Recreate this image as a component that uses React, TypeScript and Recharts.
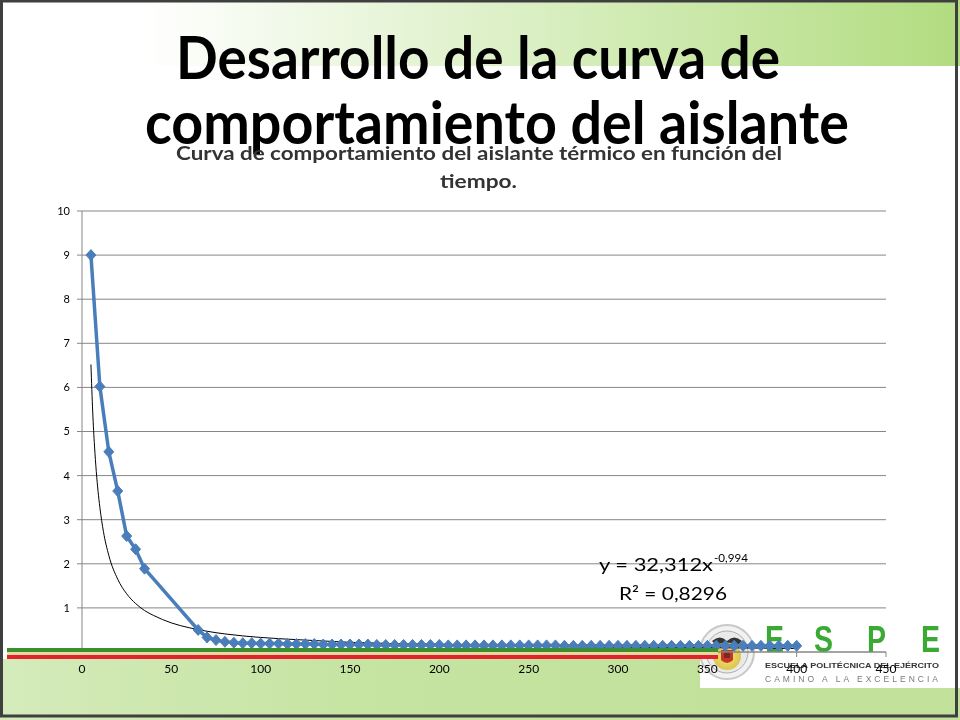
import React from "react";
import { LineChart, Line, XAxis, YAxis, CartesianGrid } from "recharts";

// ---- Data ----
const timeValues = [
  5, 10, 15, 20, 25, 30, 35,
  65, 70, 75, 80, 85, 90, 95, 100, 105, 110, 115, 120, 125, 130, 135, 140, 145, 150,
  155, 160, 165, 170, 175, 180, 185, 190, 195, 200, 205, 210, 215, 220, 225, 230, 235,
  240, 245, 250, 255, 260, 265, 270, 275, 280, 285, 290, 295, 300, 305, 310, 315, 320,
  325, 330, 335, 340, 345, 350, 355, 360, 365, 370, 375, 380, 385, 390, 395, 400,
];
const measuredValues = [
  9.0, 6.02, 4.54, 3.65, 2.63, 2.33, 1.89,
  0.5, 0.33, 0.27, 0.23, 0.21, 0.2, 0.2, 0.19, 0.19, 0.19, 0.18, 0.18, 0.18, 0.18, 0.17, 0.17, 0.17, 0.17,
  0.17, 0.17, 0.16, 0.16, 0.16, 0.16, 0.16, 0.16, 0.16, 0.16, 0.15, 0.15, 0.15, 0.15, 0.15, 0.15, 0.15,
  0.15, 0.15, 0.15, 0.15, 0.15, 0.15, 0.14, 0.14, 0.14, 0.14, 0.14, 0.14, 0.14, 0.14, 0.14, 0.14, 0.14,
  0.14, 0.14, 0.14, 0.14, 0.14, 0.14, 0.14, 0.14, 0.14, 0.14, 0.14, 0.14, 0.14, 0.14, 0.14, 0.14,
];
// Power trendline (y = 32,312x^-0,994) values read at sample times
const trendTimes = [5, 6, 7, 8, 9, 10, 12, 15, 20, 25, 30, 35, 40, 50, 60, 70, 80, 100, 125, 150, 200, 250, 300, 350, 400];
const trendValues = [6.52, 5.44, 4.67, 4.09, 3.64, 3.28, 2.73, 2.19, 1.65, 1.32, 1.1, 0.94, 0.83, 0.66, 0.55, 0.47, 0.41, 0.33, 0.27, 0.22, 0.17, 0.13, 0.11, 0.1, 0.08];

const xTicks = [0, 50, 100, 150, 200, 250, 300, 350, 400, 450];
const yTicks = [0, 1, 2, 3, 4, 5, 6, 7, 8, 9, 10];

const slideTitle = ["Desarrollo de la curva de", "comportamiento del aislante"];
const chartTitle = ["Curva de comportamiento del aislante térmico en función del", "tiempo."];
const equationMain = "y = 32,312x";
const equationExp = "-0,994";
const rSquared = "R² = 0,8296";

const measured = timeValues.map((x, i) => ({ x, y: measuredValues[i] }));
const trend = trendTimes.map((x, i) => ({ x, y: trendValues[i] }));

const BLUE = "#4a7ebb";
const GRID = "#868686";
const FONT = "Lato, 'Open Sans', sans-serif";

const Diamond = (props: any) => {
  const { cx, cy, index } = props;
  if (cx == null || cy == null) return <g key={`n-${index}`} />;
  return (
    <path
      key={`d-${index}`}
      d={`M${cx},${cy - 5.5}L${cx + 5},${cy}L${cx},${cy + 5.5}L${cx - 5},${cy}Z`}
      fill={BLUE}
      stroke={BLUE}
      strokeWidth={1}
    />
  );
};

export default function App() {
  return (
    <div
      style={{
        position: "absolute",
        left: 0,
        top: 0,
        width: 960,
        height: 720,
        background: "#ffffff",
        overflow: "hidden",
        fontFamily: FONT,
      }}
    >
      {/* Background layer */}
      <svg width={960} height={720} style={{ position: "absolute", left: 0, top: 0 }}>
        <defs>
          <linearGradient id="topBand" x1="0" y1="0" x2="1" y2="0">
            <stop offset="0" stopColor="#ffffff" />
            <stop offset="0.15" stopColor="#ffffff" />
            <stop offset="0.6" stopColor="#d6edbc" />
            <stop offset="1" stopColor="#b2dc80" />
          </linearGradient>
          <radialGradient id="emblem" cx="0.5" cy="0.5" r="0.5">
            <stop offset="0" stopColor="#f4e27a" />
            <stop offset="0.6" stopColor="#e8d25a" />
            <stop offset="1" stopColor="#d8c550" />
          </radialGradient>
        </defs>
        <rect x={0} y={0} width={960} height={66} fill="url(#topBand)" />
        {/* Emblem */}
        <circle cx={727} cy={652} r={27} fill="#f2f2f2" stroke="#c8c8c8" strokeWidth={2} />
        <circle cx={727} cy={652} r={21} fill="#e9e9e9" stroke="#b0b0b0" strokeWidth={1} />
        <circle cx={727} cy={656} r={14} fill="url(#emblem)" />
        <path d="M712,641 Q720,634 727,641 Q734,634 742,641 L738,645 Q727,640 716,645 Z" fill="#333" />
        <path d="M721,650 L733,650 L733,660 Q727,666 721,660 Z" fill="#c8342a" />
        <path d="M724,652 L730,652 L730,658 L724,658 Z" fill="#7a2a1a" />
        {/* ESPE */}
        {["E", "S", "P", "E"].map((ch, i) => (
          <text
            key={`espe-${i}`}
            x={[765, 814, 867, 921][i]}
            y={652}
            fontFamily="'Liberation Sans', Arial, sans-serif"
            fontWeight="bold"
            fontSize={36}
            fill="#3aaa35"
            textLength={19}
            lengthAdjust="spacingAndGlyphs"
          >
            {ch}
          </text>
        ))}
        <text
          x={765}
          y={668}
          fontFamily="'Liberation Sans', Arial, sans-serif"
          fontWeight="bold"
          fontSize={8}
          fill="#333"
          textLength={174}
          lengthAdjust="spacingAndGlyphs"
        >
          ESCUELA POLITÉCNICA DEL EJÉRCITO
        </text>
        <text
          x={765}
          y={682}
          fontFamily="'Liberation Sans', Arial, sans-serif"
          fontSize={8.5}
          fill="#7a7a7a"
          textLength={173}
          lengthAdjust="spacing"
        >
          CAMINO A LA EXCELENCIA
        </text>
      </svg>

      {/* Chart layer */}
      <div style={{ position: "absolute", left: 0, top: 0, width: 960, height: 720 }}>
        <LineChart width={960} height={720} margin={{ top: 211, right: 74, bottom: 38, left: 52 }}>
          <CartesianGrid vertical={false} stroke={GRID} strokeWidth={1} />
          <XAxis
            type="number"
            dataKey="x"
            domain={[0, 450]}
            ticks={xTicks}
            allowDataOverflow
            height={30}
            stroke={GRID}
            tickSize={5}
            tickMargin={7}
            tick={{ fill: "#000", fontSize: 12, fontFamily: FONT }}
          />
          <YAxis
            type="number"
            domain={[0, 10]}
            ticks={yTicks}
            width={30}
            stroke={GRID}
            tickSize={5}
            tickMargin={7}
            tick={{ fill: "#000", fontSize: 11, fontFamily: FONT }}
          />
          <Line
            data={measured}
            dataKey="y"
            type="linear"
            stroke={BLUE}
            strokeWidth={3.5}
            dot={Diamond}
            activeDot={false}
            isAnimationActive={false}
          />
          <Line
            data={trend}
            dataKey="y"
            type="monotone"
            stroke="#000"
            strokeWidth={1}
            dot={false}
            activeDot={false}
            isAnimationActive={false}
          />
        </LineChart>
      </div>

      {/* Bottom background band, multiplied over the chart so axis labels stay visible */}
      <svg
        width={960}
        height={720}
        style={{ position: "absolute", left: 0, top: 0, mixBlendMode: "multiply", pointerEvents: "none" }}
      >
        <defs>
          <linearGradient id="bottomBand" x1="0" y1="0" x2="1" y2="0">
            <stop offset="0" stopColor="#d4ebbb" />
            <stop offset="0.5" stopColor="#c6e4a2" />
            <stop offset="1" stopColor="#c2e29c" />
          </linearGradient>
        </defs>
        <rect x={0} y={659} width={700} height={61} fill="url(#bottomBand)" />
        <rect x={700} y={688} width={260} height={32} fill="#c2e29c" />
      </svg>

      {/* Overlay layer */}
      <svg width={960} height={720} style={{ position: "absolute", left: 0, top: 0, pointerEvents: "none" }}>
        {/* decorative bands */}
        <rect x={7} y={648} width={711} height={4} fill="#3d8f2e" />
        <rect x={7} y={652} width={711} height={3} fill="#ead7a3" />
        <rect x={7} y={655} width={711} height={4} fill="#e2232c" />
        {/* slide frame */}
        <rect x={1.5} y={1} width={955} height={715} fill="none" stroke="#3f3f3f" strokeWidth={3} />
        {/* slide title */}
        <text x={176} y={79} fontFamily={FONT} fontWeight="bold" fontSize={60} fill="#000" textLength={604} lengthAdjust="spacingAndGlyphs">
          {slideTitle[0]}
        </text>
        <text x={145} y={144} fontFamily={FONT} fontWeight="bold" fontSize={60} fill="#000" textLength={704} lengthAdjust="spacingAndGlyphs">
          {slideTitle[1]}
        </text>
        {/* chart title */}
        <text x={176} y={160} fontFamily={FONT} fontWeight="bold" fontSize={19} fill="#333" textLength={606} lengthAdjust="spacingAndGlyphs">
          {chartTitle[0]}
        </text>
        <text x={440} y={188} fontFamily={FONT} fontWeight="bold" fontSize={19} fill="#333" textLength={77} lengthAdjust="spacingAndGlyphs">
          {chartTitle[1]}
        </text>
        {/* trendline label */}
        <text x={599} y={571} fontFamily={FONT} fontSize={18} fill="#000" textLength={114} lengthAdjust="spacingAndGlyphs">
          {equationMain}
        </text>
        <text x={714} y={562} fontFamily={FONT} fontSize={11} fill="#000" textLength={34} lengthAdjust="spacingAndGlyphs">
          {equationExp}
        </text>
        <text x={619} y={600} fontFamily={FONT} fontSize={18} fill="#000" textLength={108} lengthAdjust="spacingAndGlyphs">
          {rSquared}
        </text>
      </svg>
    </div>
  );
}
